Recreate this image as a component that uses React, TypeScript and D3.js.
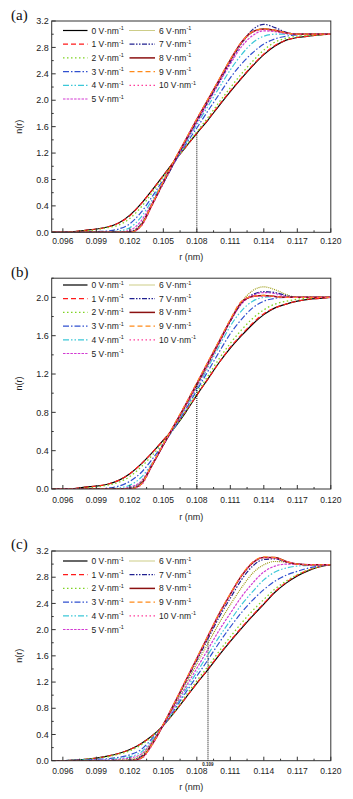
import React from 'react';
import * as d3 from 'd3';

// r grid (nm) shared by every curve
const rValues = [
  0.095, 0.096, 0.097, 0.098, 0.099, 0.1, 0.101, 0.102, 0.103, 0.104, 0.105, 0.106, 0.107,
  0.108, 0.109, 0.11, 0.111, 0.112, 0.113, 0.114, 0.115, 0.116, 0.117, 0.118, 0.119, 0.12,
];

const fieldLabels = ['0', '1', '2', '3', '4', '5', '6', '7', '8', '9', '10'];

// panel (a): n(r), one row per field strength
const nA = [
  [0, 0, 0.01, 0.03, 0.05, 0.08, 0.14, 0.26, 0.43, 0.64, 0.86, 1.08, 1.29, 1.5, 1.7, 1.92, 2.13, 2.33, 2.52, 2.69, 2.82, 2.91, 2.95, 2.97, 2.99, 3.0],
  [0, 0, 0.01, 0.03, 0.05, 0.08, 0.14, 0.25, 0.43, 0.64, 0.86, 1.08, 1.29, 1.5, 1.71, 1.93, 2.14, 2.34, 2.53, 2.7, 2.83, 2.91, 2.95, 2.97, 2.99, 3.0],
  [0, 0, 0.01, 0.02, 0.04, 0.07, 0.11, 0.21, 0.38, 0.6, 0.84, 1.07, 1.3, 1.52, 1.74, 1.97, 2.19, 2.4, 2.59, 2.76, 2.88, 2.94, 2.97, 2.98, 2.99, 3.0],
  [0, 0, 0, 0, 0.01, 0.02, 0.05, 0.13, 0.3, 0.54, 0.8, 1.06, 1.33, 1.58, 1.84, 2.09, 2.34, 2.55, 2.72, 2.85, 2.93, 2.97, 2.99, 3.0, 3.0, 3.0],
  [0, 0, 0, 0, 0, 0, 0.02, 0.07, 0.23, 0.49, 0.77, 1.06, 1.35, 1.63, 1.91, 2.19, 2.46, 2.69, 2.87, 2.97, 3.0, 3.0, 3.0, 3.0, 3.0, 3.0],
  [0, 0, 0, 0, 0, 0, 0, 0.03, 0.17, 0.45, 0.75, 1.06, 1.37, 1.66, 1.96, 2.26, 2.55, 2.81, 2.98, 3.05, 3.04, 3.01, 3.0, 3.0, 3.0, 3.0],
  [0, 0, 0, 0, 0, 0, 0, 0.01, 0.13, 0.43, 0.75, 1.07, 1.39, 1.69, 2.0, 2.3, 2.6, 2.86, 3.03, 3.08, 3.05, 3.02, 3.0, 3.0, 3.0, 3.0],
  [0, 0, 0, 0, 0, 0, 0, 0.01, 0.12, 0.42, 0.74, 1.06, 1.38, 1.68, 1.98, 2.28, 2.58, 2.86, 3.07, 3.15, 3.1, 3.03, 3.0, 3.0, 3.0, 3.0],
  [0, 0, 0, 0, 0, 0, 0, 0, 0.1, 0.42, 0.76, 1.09, 1.4, 1.71, 2.01, 2.31, 2.61, 2.88, 3.04, 3.08, 3.06, 3.02, 3.0, 3.0, 3.0, 3.0],
  [0, 0, 0, 0, 0, 0, 0, 0, 0.1, 0.43, 0.77, 1.1, 1.41, 1.72, 2.02, 2.32, 2.62, 2.88, 3.04, 3.08, 3.06, 3.02, 3.0, 3.0, 3.0, 3.0],
  [0, 0, 0, 0, 0, 0, 0, 0, 0.09, 0.41, 0.75, 1.08, 1.4, 1.71, 2.01, 2.31, 2.6, 2.87, 3.03, 3.07, 3.05, 3.02, 3.0, 3.0, 3.0, 3.0],
];

// panel (b)
const nB = [
  [0, 0, 0.005, 0.02, 0.03, 0.05, 0.09, 0.16, 0.26, 0.38, 0.51, 0.64, 0.8, 0.98, 1.15, 1.32, 1.47, 1.6, 1.72, 1.82, 1.89, 1.93, 1.96, 1.98, 1.99, 2.0],
  [0, 0, 0.005, 0.02, 0.03, 0.05, 0.09, 0.16, 0.26, 0.38, 0.51, 0.65, 0.81, 0.98, 1.15, 1.32, 1.48, 1.61, 1.73, 1.83, 1.89, 1.93, 1.96, 1.98, 1.99, 2.0],
  [0, 0, 0, 0.01, 0.02, 0.04, 0.07, 0.13, 0.23, 0.35, 0.49, 0.64, 0.81, 1.0, 1.18, 1.36, 1.52, 1.66, 1.78, 1.87, 1.93, 1.96, 1.98, 1.99, 2.0, 2.0],
  [0, 0, 0, 0, 0, 0.01, 0.03, 0.08, 0.17, 0.31, 0.47, 0.64, 0.83, 1.03, 1.23, 1.43, 1.62, 1.77, 1.89, 1.96, 1.99, 2.0, 2.0, 2.0, 2.0, 2.0],
  [0, 0, 0, 0, 0, 0, 0.01, 0.04, 0.12, 0.27, 0.46, 0.65, 0.85, 1.05, 1.27, 1.49, 1.7, 1.86, 1.96, 2.0, 2.01, 2.0, 2.0, 2.0, 2.0, 2.0],
  [0, 0, 0, 0, 0, 0, 0, 0.02, 0.08, 0.26, 0.46, 0.66, 0.86, 1.07, 1.29, 1.52, 1.75, 1.93, 2.02, 2.05, 2.04, 2.01, 2.0, 2.0, 2.0, 2.0],
  [0, 0, 0, 0, 0, 0, 0, 0.01, 0.07, 0.25, 0.46, 0.66, 0.87, 1.08, 1.3, 1.53, 1.76, 1.95, 2.07, 2.11, 2.08, 2.03, 2.0, 2.0, 2.0, 2.0],
  [0, 0, 0, 0, 0, 0, 0, 0.01, 0.06, 0.25, 0.46, 0.67, 0.88, 1.09, 1.31, 1.53, 1.75, 1.94, 2.03, 2.06, 2.05, 2.02, 2.0, 2.0, 2.0, 2.0],
  [0, 0, 0, 0, 0, 0, 0, 0, 0.05, 0.25, 0.46, 0.67, 0.88, 1.1, 1.32, 1.54, 1.76, 1.95, 2.01, 2.02, 2.01, 2.0, 2.0, 2.0, 2.0, 2.0],
  [0, 0, 0, 0, 0, 0, 0, 0, 0.05, 0.26, 0.47, 0.68, 0.89, 1.11, 1.33, 1.55, 1.77, 1.96, 2.01, 2.02, 2.01, 2.0, 2.0, 2.0, 2.0, 2.0],
  [0, 0, 0, 0, 0, 0, 0, 0, 0.04, 0.25, 0.46, 0.67, 0.88, 1.1, 1.32, 1.54, 1.76, 1.95, 2.01, 2.01, 2.01, 2.0, 2.0, 2.0, 2.0, 2.0],
];

// panel (c)
const nC = [
  [0, 0, 0.01, 0.02, 0.04, 0.07, 0.11, 0.17, 0.26, 0.38, 0.54, 0.74, 0.96, 1.18, 1.39, 1.61, 1.82, 2.02, 2.21, 2.39, 2.57, 2.71, 2.82, 2.9, 2.96, 2.99],
  [0, 0, 0.01, 0.02, 0.04, 0.07, 0.11, 0.17, 0.26, 0.38, 0.54, 0.74, 0.96, 1.18, 1.4, 1.62, 1.83, 2.03, 2.22, 2.4, 2.58, 2.72, 2.83, 2.91, 2.96, 2.99],
  [0, 0, 0.01, 0.02, 0.04, 0.06, 0.1, 0.15, 0.24, 0.37, 0.54, 0.75, 0.99, 1.22, 1.44, 1.67, 1.89, 2.1, 2.29, 2.46, 2.62, 2.74, 2.84, 2.91, 2.96, 2.99],
  [0, 0, 0.01, 0.01, 0.02, 0.03, 0.05, 0.09, 0.17, 0.34, 0.54, 0.78, 1.04, 1.29, 1.54, 1.8, 2.04, 2.26, 2.45, 2.61, 2.74, 2.83, 2.89, 2.94, 2.97, 2.99],
  [0, 0, 0, 0.01, 0.01, 0.02, 0.03, 0.06, 0.13, 0.31, 0.54, 0.8, 1.08, 1.35, 1.62, 1.89, 2.14, 2.38, 2.58, 2.76, 2.88, 2.94, 2.97, 2.98, 2.99, 2.99],
  [0, 0, 0, 0, 0.01, 0.01, 0.02, 0.04, 0.1, 0.29, 0.55, 0.82, 1.12, 1.41, 1.7, 1.99, 2.25, 2.5, 2.71, 2.88, 2.97, 3.0, 3.0, 2.99, 2.99, 2.99],
  [0, 0, 0, 0, 0, 0, 0.01, 0.02, 0.08, 0.28, 0.55, 0.85, 1.16, 1.48, 1.79, 2.1, 2.38, 2.64, 2.86, 2.99, 3.04, 3.03, 3.0, 2.99, 2.99, 2.99],
  [0, 0, 0, 0, 0, 0, 0, 0.01, 0.06, 0.26, 0.55, 0.87, 1.2, 1.53, 1.86, 2.19, 2.48, 2.76, 2.97, 3.07, 3.08, 3.03, 3.0, 2.99, 2.99, 2.99],
  [0, 0, 0, 0, 0, 0, 0, 0, 0.04, 0.25, 0.55, 0.88, 1.22, 1.56, 1.9, 2.24, 2.54, 2.82, 3.02, 3.1, 3.1, 3.04, 3.0, 2.99, 2.99, 2.99],
  [0, 0, 0, 0, 0, 0, 0, 0, 0.04, 0.25, 0.56, 0.89, 1.23, 1.57, 1.91, 2.25, 2.55, 2.83, 3.03, 3.11, 3.1, 3.04, 3.0, 2.99, 2.99, 2.99],
  [0, 0, 0, 0, 0, 0, 0, 0, 0.03, 0.24, 0.55, 0.88, 1.22, 1.56, 1.9, 2.24, 2.54, 2.82, 3.02, 3.1, 3.09, 3.04, 3.0, 2.99, 2.99, 2.99],
];

const xTicks = [0.096, 0.099, 0.102, 0.105, 0.108, 0.111, 0.114, 0.117, 0.12];
const xMinorTicks = [0.0975, 0.1005, 0.1035, 0.1065, 0.1095, 0.1125, 0.1155, 0.1185];
const yTicks32 = [0, 0.4, 0.8, 1.2, 1.6, 2.0, 2.4, 2.8, 3.2];
const yTicks22 = [0, 0.4, 0.8, 1.2, 1.6, 2.0];

// line styles, Origin-like
const colors = ['#000000', '#ff1a1a', '#7ed321', '#3050d0', '#3cc8d8', '#d23ad2', '#9a9a10', '#202090', '#8b1010', '#ff8a1a', '#ff3d9a'];
const dashes = ['', '5,3', '1.5,2.5', '6,2,1.5,2', '6,2,1.5,2,1.5,2', '2.5,1.2', '1,1', '5,1.5,1.5,1.5,1.5,1.5', '', '5,3', '1.5,2.5'];
const widths = [1.2, 1.2, 1.3, 1.2, 1.2, 1.2, 1.2, 1.2, 1.5, 1.2, 1.3];

const X0 = 51.7;
const X1 = 330.8;
const FONT = "'Liberation Sans', Arial, sans-serif";

const panels = [
  { key: 'a', label: '(a)', data: nA, yMax: 3.2, yTicks: yTicks32, top: 21, bottom: 232.3, labelY: 19.5, legendTop: 30.5, tickGap: 11.5, titleGap: 27.5, dropR: 0.108, dropN: 1.5, dropText: '' },
  { key: 'b', label: '(b)', data: nB, yMax: 2.2, yTicks: yTicks22, top: 278.2, bottom: 489, labelY: 277, legendTop: 285, tickGap: 14, titleGap: 31, dropR: 0.108, dropN: 1.1, dropText: '' },
  { key: 'c', label: '(c)', data: nC, yMax: 3.2, yTicks: yTicks32, top: 551, bottom: 760.7, labelY: 549, legendTop: 561, tickGap: 13.2, titleGap: 29.5, dropR: 0.109, dropN: 1.85, dropText: '0.109' },
];

function Panel({ p }: { p: any }) {
  const x = d3.scaleLinear().domain([0.095, 0.12]).range([X0, X1]);
  const y = d3.scaleLinear().domain([0, p.yMax]).range([p.bottom, p.top]);
  const line = d3
    .line<number>()
    .x((_, i) => x(rValues[i]))
    .y((v) => y(v))
    .curve(d3.curveMonotoneX);
  const yMinor = d3.range(0.2, p.yMax + 0.01, 0.4);
  const midY = (p.top + p.bottom) / 2;

  return (
    <g>
      <clipPath id={`clip-${p.key}`}>
        <rect x={X0} y={p.top} width={X1 - X0} height={p.bottom - p.top} />
      </clipPath>

      {/* curves */}
      <g clipPath={`url(#clip-${p.key})`} fill="none">
        {p.data.map((s: number[], i: number) => (
          <path
            key={i}
            d={line(s) || ''}
            stroke={colors[i]}
            strokeWidth={widths[i]}
            strokeDasharray={dashes[i] || undefined}
          />
        ))}
      </g>

      {/* drop line */}
      <line
        x1={x(p.dropR)}
        x2={x(p.dropR)}
        y1={p.bottom}
        y2={y(p.dropN)}
        stroke="#000"
        strokeWidth={1}
        strokeDasharray="1,1"
      />
      {p.dropText && (
        <text x={x(p.dropR)} y={p.bottom + 5.2} fontSize={4.5} fontWeight="bold" textAnchor="middle" fontFamily={FONT} fill="#222">
          {p.dropText}
        </text>
      )}

      {/* frame */}
      <rect x={X0} y={p.top} width={X1 - X0} height={p.bottom - p.top} fill="none" stroke="#333" strokeWidth={1} />

      {/* x ticks */}
      {xTicks.map((t) => (
        <g key={`xt${t}`}>
          <line x1={x(t)} x2={x(t)} y1={p.bottom} y2={p.bottom - 4} stroke="#333" />
          <text x={x(t)} y={p.bottom + p.tickGap} fontSize={8.5} textAnchor="middle" fontFamily={FONT} fill="#222">
            {d3.format('.3f')(t)}
          </text>
        </g>
      ))}
      {xMinorTicks.map((t) => (
        <line key={`xm${t}`} x1={x(t)} x2={x(t)} y1={p.bottom} y2={p.bottom - 2} stroke="#333" />
      ))}

      {/* y ticks */}
      {p.yTicks.map((t: number) => (
        <g key={`yt${t}`}>
          <line x1={X0} x2={X0 + 4} y1={y(t)} y2={y(t)} stroke="#333" />
          <text x={X0 - 3} y={y(t) + 3.2} fontSize={9} textAnchor="end" fontFamily={FONT} fill="#222">
            {d3.format('.1f')(t)}
          </text>
        </g>
      ))}
      {yMinor.map((t: number) => (
        <line key={`ym${t}`} x1={X0} x2={X0 + 2} y1={y(t)} y2={y(t)} stroke="#333" />
      ))}

      {/* axis titles */}
      <text
        transform={`translate(22, ${midY}) rotate(-90)`}
        fontSize={9}
        textAnchor="middle"
        fontFamily={FONT}
        fill="#222"
      >
        n(r)
      </text>
      <text x={(X0 + X1) / 2} y={p.bottom + p.titleGap} fontSize={9} textAnchor="middle" fontFamily={FONT} fill="#222">
        r (nm)
      </text>

      {/* panel label */}
      <text x={11} y={p.labelY} fontSize={15} fontFamily="'Liberation Serif', 'Times New Roman', serif" fill="#111">
        {p.label}
      </text>

      {/* legend */}
      {fieldLabels.map((f, i) => {
        const col = i < 6 ? 0 : 1;
        const row = i < 6 ? i : i - 6;
        const ly = p.legendTop + row * 13.7;
        const lx0 = col === 0 ? 63 : 129.5;
        const lx1 = col === 0 ? 87.5 : 155;
        return (
          <g key={`lg${i}`}>
            <line
              x1={lx0}
              x2={lx1}
              y1={ly}
              y2={ly}
              stroke={colors[i]}
              strokeWidth={widths[i]}
              strokeDasharray={dashes[i] || undefined}
            />
            <text x={lx1 + 4} y={ly + 3} fontSize={8.5} fontFamily={FONT} fill="#222">
              <tspan>{f} V·nm</tspan>
              <tspan dy={-3.5} fontSize={5.5}>-1</tspan>
            </text>
          </g>
        );
      })}
    </g>
  );
}

export default function App() {
  return (
    <svg
      width={353}
      height={799}
      style={{ position: 'absolute', left: 0, top: 0, background: '#fff', display: 'block' }}
    >
      <rect width={353} height={799} fill="#fff" />
      {panels.map((p) => (
        <Panel key={p.key} p={p} />
      ))}
    </svg>
  );
}
